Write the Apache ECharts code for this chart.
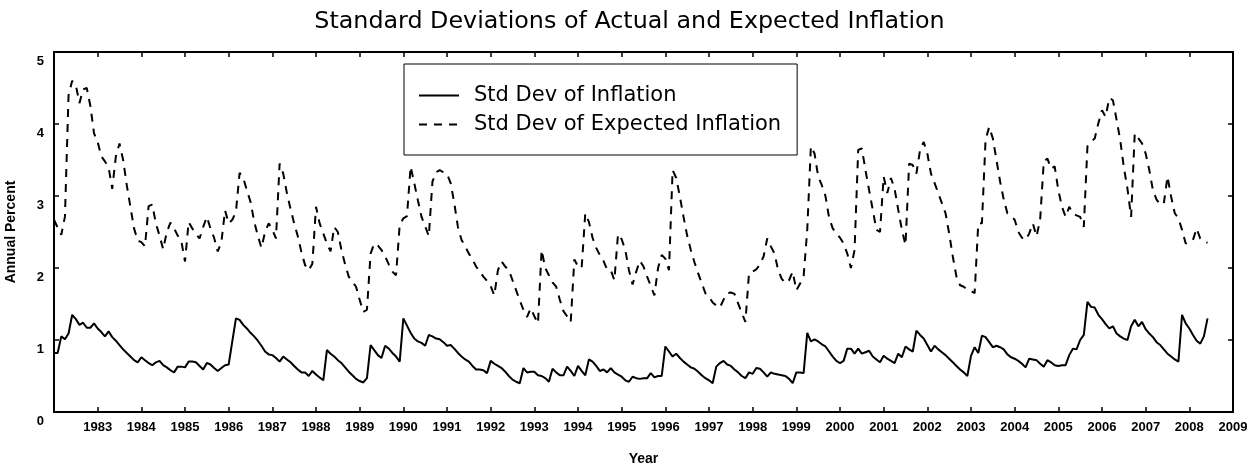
<!DOCTYPE html>
<html>
<head>
<meta charset="utf-8">
<script src="https://cdn.jsdelivr.net/npm/echarts@6/dist/echarts.min.js"></script>
<style>
  html, body { margin: 0; padding: 0; background: #fff; }
  #chart { width: 1259px; height: 464px; }
</style>
</head>
<body>
<div id="chart"></div>
<script>
// monthly series, first value = Jan 1982
var firstYear = 1982
var yearTicks = [1982, 2009]
var valueTicks = [0, 5]
var seriesNames = ['Std Dev of Inflation', 'Std Dev of Expected Inflation']

var stdInflation = [
  0.82, 0.82, 1.05, 1.01, 1.09, 1.35, 1.29, 1.21, 1.24, 1.17, 1.17, 1.23, // 1982
  1.16, 1.11, 1.05, 1.12, 1.04, 0.99, 0.93, 0.87, 0.82, 0.77, 0.72, 0.69, // 1983
  0.76, 0.72, 0.68, 0.65, 0.69, 0.71, 0.65, 0.62, 0.58, 0.55, 0.63, 0.63, // 1984
  0.62, 0.70, 0.70, 0.69, 0.64, 0.59, 0.68, 0.66, 0.61, 0.57, 0.61, 0.65, // 1985
  0.66, 0.98, 1.30, 1.28, 1.21, 1.16, 1.10, 1.05, 0.99, 0.92, 0.84, 0.80, // 1986
  0.79, 0.75, 0.70, 0.77, 0.73, 0.69, 0.64, 0.59, 0.55, 0.55, 0.50, 0.57, // 1987
  0.52, 0.48, 0.44, 0.86, 0.81, 0.77, 0.72, 0.68, 0.62, 0.56, 0.51, 0.46, // 1988
  0.43, 0.41, 0.47, 0.93, 0.86, 0.79, 0.75, 0.92, 0.88, 0.82, 0.77, 0.70, // 1989
  1.30, 1.20, 1.10, 1.02, 0.98, 0.96, 0.92, 1.07, 1.05, 1.02, 1.01, 0.97, // 1990
  0.92, 0.93, 0.88, 0.82, 0.77, 0.73, 0.70, 0.64, 0.59, 0.59, 0.58, 0.54, // 1991
  0.71, 0.67, 0.64, 0.61, 0.56, 0.50, 0.45, 0.42, 0.40, 0.61, 0.55, 0.56, // 1992
  0.56, 0.51, 0.50, 0.47, 0.42, 0.60, 0.55, 0.51, 0.51, 0.63, 0.57, 0.50, // 1993
  0.64, 0.57, 0.51, 0.73, 0.70, 0.64, 0.57, 0.59, 0.55, 0.61, 0.55, 0.52, // 1994
  0.49, 0.44, 0.42, 0.49, 0.47, 0.46, 0.47, 0.47, 0.54, 0.48, 0.50, 0.50, // 1995
  0.91, 0.84, 0.77, 0.81, 0.75, 0.70, 0.66, 0.62, 0.60, 0.56, 0.51, 0.47, // 1996
  0.44, 0.40, 0.63, 0.68, 0.71, 0.66, 0.64, 0.59, 0.55, 0.50, 0.47, 0.55, // 1997
  0.53, 0.61, 0.60, 0.55, 0.49, 0.55, 0.53, 0.52, 0.51, 0.50, 0.46, 0.40, // 1998
  0.55, 0.55, 0.54, 1.10, 0.98, 1.01, 0.98, 0.94, 0.91, 0.84, 0.77, 0.71, // 1999
  0.68, 0.71, 0.88, 0.88, 0.81, 0.88, 0.81, 0.83, 0.85, 0.77, 0.73, 0.69, // 2000
  0.78, 0.74, 0.71, 0.68, 0.81, 0.76, 0.91, 0.87, 0.84, 1.13, 1.07, 1.02, // 2001
  0.93, 0.84, 0.92, 0.87, 0.83, 0.79, 0.74, 0.69, 0.64, 0.59, 0.55, 0.50, // 2002
  0.78, 0.90, 0.82, 1.06, 1.04, 0.97, 0.90, 0.92, 0.90, 0.87, 0.80, 0.76, // 2003
  0.74, 0.71, 0.67, 0.62, 0.74, 0.73, 0.72, 0.67, 0.63, 0.72, 0.69, 0.65, // 2004
  0.64, 0.65, 0.65, 0.79, 0.88, 0.87, 1.00, 1.07, 1.53, 1.46, 1.45, 1.35, // 2005
  1.29, 1.22, 1.16, 1.19, 1.09, 1.05, 1.02, 1.00, 1.19, 1.28, 1.19, 1.25, // 2006
  1.15, 1.09, 1.04, 0.97, 0.93, 0.87, 0.81, 0.77, 0.73, 0.70, 1.35, 1.23, // 2007
  1.16, 1.07, 0.99, 0.95, 1.05, 1.30                                      // 2008
]

var stdExpected = [
  2.67, 2.56, 2.46, 2.71, 4.40, 4.60, 4.54, 4.29, 4.48, 4.50, 4.25, 3.87, // 1982
  3.75, 3.55, 3.48, 3.40, 3.10, 3.55, 3.73, 3.50, 3.15, 2.85, 2.55, 2.38, // 1983
  2.36, 2.30, 2.86, 2.88, 2.62, 2.45, 2.26, 2.50, 2.63, 2.55, 2.45, 2.37, // 1984
  2.09, 2.64, 2.55, 2.47, 2.41, 2.57, 2.71, 2.55, 2.42, 2.23, 2.36, 2.80, // 1985
  2.62, 2.67, 2.78, 3.32, 3.25, 3.08, 2.92, 2.65, 2.45, 2.28, 2.50, 2.62, // 1986
  2.53, 2.41, 3.45, 3.31, 3.04, 2.82, 2.62, 2.44, 2.22, 2.04, 1.97, 2.06, // 1987
  2.85, 2.62, 2.48, 2.34, 2.23, 2.57, 2.50, 2.25, 2.05, 1.88, 1.81, 1.74, // 1988
  1.56, 1.39, 1.42, 2.20, 2.34, 2.31, 2.25, 2.16, 2.05, 1.95, 1.90, 2.60, // 1989
  2.69, 2.72, 3.41, 3.18, 2.94, 2.71, 2.58, 2.44, 3.20, 3.33, 3.36, 3.33, // 1990
  3.31, 3.18, 2.90, 2.57, 2.39, 2.30, 2.20, 2.12, 2.02, 1.95, 1.88, 1.82, // 1991
  1.75, 1.62, 1.97, 2.09, 2.02, 1.97, 1.83, 1.69, 1.55, 1.42, 1.32, 1.44, // 1992
  1.33, 1.23, 2.25, 2.00, 1.90, 1.80, 1.74, 1.56, 1.40, 1.33, 1.25, 2.12, // 1993
  2.02, 2.00, 2.76, 2.64, 2.42, 2.28, 2.18, 2.10, 1.98, 1.97, 1.83, 2.47, // 1994
  2.40, 2.25, 1.97, 1.77, 1.95, 2.10, 2.02, 1.88, 1.75, 1.62, 2.00, 2.18, // 1995
  2.13, 1.97, 3.36, 3.25, 2.99, 2.71, 2.45, 2.25, 2.08, 1.93, 1.79, 1.65, // 1996
  1.60, 1.52, 1.48, 1.45, 1.56, 1.65, 1.66, 1.64, 1.51, 1.38, 1.25, 1.93, // 1997
  1.95, 1.98, 2.05, 2.16, 2.41, 2.30, 2.20, 1.97, 1.85, 1.79, 1.83, 1.95, // 1998
  1.69, 1.78, 1.88, 2.53, 3.69, 3.59, 3.27, 3.15, 3.00, 2.70, 2.55, 2.48, // 1999
  2.42, 2.34, 2.20, 2.00, 2.25, 3.64, 3.66, 3.36, 3.08, 2.81, 2.53, 2.50, // 2000
  3.27, 3.04, 3.25, 3.10, 2.81, 2.53, 2.32, 3.45, 3.43, 3.31, 3.64, 3.75, // 2001
  3.59, 3.31, 3.18, 3.04, 2.90, 2.76, 2.48, 2.16, 1.88, 1.76, 1.74, 1.70, // 2002
  1.68, 1.65, 2.62, 2.62, 3.78, 3.96, 3.80, 3.50, 3.20, 2.95, 2.76, 2.72, // 2003
  2.67, 2.50, 2.42, 2.39, 2.48, 2.62, 2.44, 2.67, 3.48, 3.52, 3.38, 3.41, // 2004
  3.08, 2.85, 2.71, 2.85, 2.76, 2.73, 2.71, 2.57, 3.69, 3.75, 3.80, 4.01, // 2005
  4.19, 4.10, 4.36, 4.33, 4.06, 3.78, 3.40, 3.10, 2.71, 3.87, 3.80, 3.73, // 2006
  3.59, 3.36, 3.08, 2.95, 2.88, 2.90, 3.27, 2.99, 2.76, 2.69, 2.53, 2.34, // 2007
  2.36, 2.39, 2.55, 2.41, 2.37, 2.35                                      // 2008
]

function toPoints(values) {
  return values.map(function (v, i) {
    return [firstYear + i / 12, v]
  })
}

var tickFont = { color: '#000', fontFamily: 'Liberation Sans', fontWeight: 'bold', fontSize: 13 }
var nameFont = { color: '#000', fontFamily: 'Liberation Sans', fontWeight: 'bold', fontSize: 14 }
var boxLine = { show: true, onZero: false, lineStyle: { color: '#000', width: 2 } }
var boxTick = { show: true, inside: true, length: 5, lineStyle: { color: '#000', width: 1.5 } }

var chart = echarts.init(document.getElementById('chart'))
chart.setOption({
  animation: false,
  backgroundColor: '#fff',
  title: {
    text: 'Standard Deviations of Actual and Expected Inflation',
    left: 'center',
    top: 5,
    textStyle: { color: '#000', fontFamily: 'DejaVu Sans', fontWeight: 'normal', fontSize: 23.8 }
  },
  legend: {
    orient: 'vertical',
    left: 404,
    top: 64,
    padding: [21, 16, 20, 14],
    itemWidth: 40,
    itemHeight: 14,
    itemGap: 8,
    borderColor: '#000',
    borderWidth: 1,
    backgroundColor: '#fff',
    itemStyle: { opacity: 0, borderWidth: 0 },
    textStyle: { color: '#000', fontFamily: 'DejaVu Sans', fontSize: 21, lineHeight: 20, padding: [0, 0, 0, 10] },
    data: seriesNames
  },
  grid: { left: 54, right: 26, top: 52, bottom: 52, containLabel: false, outerBoundsMode: 'none' },
  xAxis: [{
    type: 'value',
    position: 'bottom',
    min: yearTicks[0],
    max: yearTicks[1],
    interval: 1,
    axisLine: boxLine,
    axisTick: boxTick,
    splitLine: { show: false },
    axisLabel: Object.assign({
      margin: 9,
      showMinLabel: false,
      showMaxLabel: true,
      formatter: function (v) { return v === firstYear ? '' : String(v) }
    }, tickFont),
    name: 'Year',
    nameLocation: 'middle',
    nameGap: 40,
    nameTextStyle: nameFont
  }, {
    type: 'value',
    position: 'top',
    min: yearTicks[0],
    max: yearTicks[1],
    interval: 1,
    axisLine: boxLine,
    axisTick: boxTick,
    axisLabel: { show: false },
    splitLine: { show: false }
  }],
  yAxis: [{
    type: 'value',
    position: 'left',
    min: valueTicks[0],
    max: valueTicks[1],
    interval: 1,
    axisLine: boxLine,
    axisTick: boxTick,
    splitLine: { show: false },
    axisLabel: Object.assign({
      margin: 10,
      verticalAlign: 'top',
      padding: [3, 0, 0, 0]
    }, tickFont),
    name: 'Annual Percent',
    nameLocation: 'middle',
    nameRotate: 90,
    nameGap: 36,
    nameTextStyle: nameFont
  }, {
    type: 'value',
    position: 'right',
    min: valueTicks[0],
    max: valueTicks[1],
    interval: 1,
    axisLine: boxLine,
    axisTick: boxTick,
    axisLabel: { show: false },
    splitLine: { show: false }
  }],
  series: [{
    name: seriesNames[0],
    type: 'line',
    symbol: 'none',
    silent: true,
    lineStyle: { color: '#000', width: 2 },
    itemStyle: { color: '#000' },
    data: toPoints(stdInflation)
  }, {
    name: seriesNames[1],
    type: 'line',
    symbol: 'none',
    silent: true,
    lineStyle: { color: '#000', width: 2, type: [8, 7] },
    itemStyle: { color: '#000' },
    data: toPoints(stdExpected)
  }]
})
</script>
</body>
</html>
